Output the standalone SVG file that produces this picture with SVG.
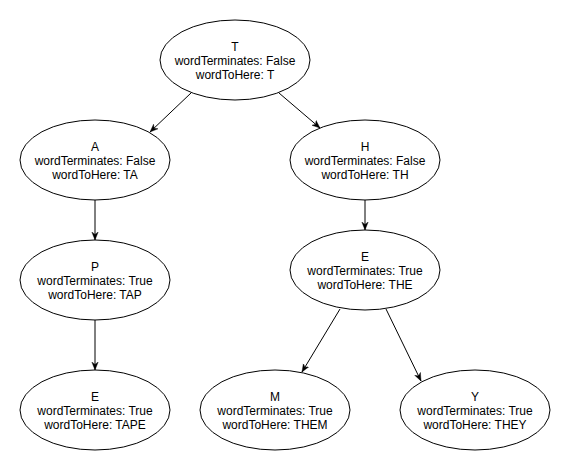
<svg xmlns="http://www.w3.org/2000/svg" width="571" height="471" viewBox="0 0 571 471">
<style>
.node ellipse{fill:#ffffff;stroke:#000000;stroke-width:1}
.node text{font-family:"Liberation Sans",Arial,Helvetica,sans-serif;font-size:12px;fill:#000000;text-anchor:middle}
.edge{stroke:#000000;stroke-width:1;fill:none;marker-end:url(#arr)}
</style>
<defs>
<marker id="arr" viewBox="0 0 10 10" refX="10" refY="5" markerWidth="8" markerHeight="8" orient="auto" markerUnits="userSpaceOnUse">
<path d="M0,1 L10,5 L0,9 L3,5 Z" fill="#000000" stroke="#000000" stroke-width="0.5"/>
</marker>
</defs>
<rect width="571" height="471" fill="#ffffff"/>
<g id="edges">
<line class="edge" x1="191" y1="93" x2="150" y2="132"/>
<line class="edge" x1="279" y1="93" x2="320" y2="128"/>
<line class="edge" x1="95" y1="200" x2="95" y2="240"/>
<line class="edge" x1="95" y1="320" x2="95" y2="370"/>
<line class="edge" x1="365" y1="200" x2="365" y2="230"/>
<line class="edge" x1="340" y1="309" x2="302" y2="372"/>
<line class="edge" x1="386" y1="309" x2="421" y2="381"/>
</g>
<g id="node-T" class="node"><ellipse cx="235" cy="60" rx="75" ry="40"/><text x="235" y="51">T</text><text x="235" y="65">wordTerminates: False</text><text x="235" y="79">wordToHere: T</text></g>
<g id="node-A" class="node"><ellipse cx="95" cy="160" rx="75" ry="40"/><text x="95" y="151">A</text><text x="95" y="165">wordTerminates: False</text><text x="95" y="179">wordToHere: TA</text></g>
<g id="node-H" class="node"><ellipse cx="365" cy="160" rx="75" ry="40"/><text x="365" y="151">H</text><text x="365" y="165">wordTerminates: False</text><text x="365" y="179">wordToHere: TH</text></g>
<g id="node-P" class="node"><ellipse cx="95" cy="280" rx="75" ry="40"/><text x="95" y="271">P</text><text x="95" y="285">wordTerminates: True</text><text x="95" y="299">wordToHere: TAP</text></g>
<g id="node-E1" class="node"><ellipse cx="365" cy="270" rx="75" ry="40"/><text x="365" y="261">E</text><text x="365" y="275">wordTerminates: True</text><text x="365" y="289">wordToHere: THE</text></g>
<g id="node-E2" class="node"><ellipse cx="95" cy="410" rx="75" ry="40"/><text x="95" y="401">E</text><text x="95" y="415">wordTerminates: True</text><text x="95" y="429">wordToHere: TAPE</text></g>
<g id="node-M" class="node"><ellipse cx="275" cy="410" rx="75" ry="40"/><text x="275" y="401">M</text><text x="275" y="415">wordTerminates: True</text><text x="275" y="429">wordToHere: THEM</text></g>
<g id="node-Y" class="node"><ellipse cx="475" cy="410" rx="75" ry="40"/><text x="475" y="401">Y</text><text x="475" y="415">wordTerminates: True</text><text x="475" y="429">wordToHere: THEY</text></g>
</svg>
